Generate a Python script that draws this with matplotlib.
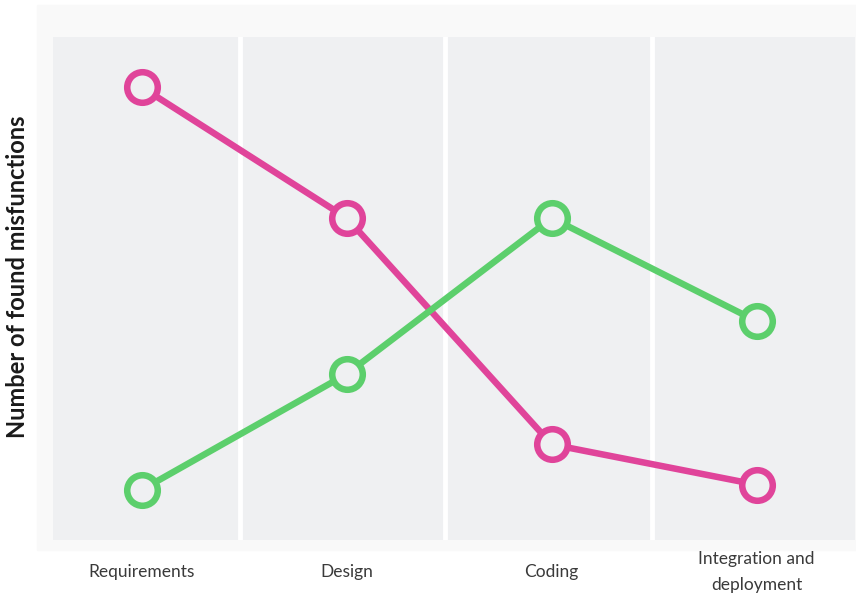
import matplotlib.pyplot as plt
from matplotlib.patches import Rectangle

# phases and values (arbitrary units, 0-10)
phases = ['Requirements', 'Design', 'Coding', 'Integration and\ndeployment']
pink_vals = [9.0, 6.4, 1.9, 1.1]
green_vals = [1.0, 3.3, 6.4, 4.35]
# column edges between phases
edges = [-0.434, 0.478, 1.478, 2.49, 3.48]

panel = '#eff0f2'
pink = '#e0449a'
green = '#5ccf6c'

plt.rcParams['font.family'] = ['Lato', 'DejaVu Sans']

fig = plt.figure(figsize=(8.56, 5.96), dpi=100)
fig.patch.set_facecolor('white')
# faint outer background
fig.add_artist(Rectangle((37 / 856, 46 / 596), 819 / 856, 545 / 596,
                         transform=fig.transFigure, color='#f9f9f9', zorder=0))

ax = fig.add_axes([53 / 856, 56 / 596, 802 / 856, 503 / 596])
ax.set_facecolor('none')
ax.set_xlim(edges[0], edges[-1])
ax.set_ylim(0, 10)

for i in range(len(phases)):
    ax.axvspan(edges[i], edges[i + 1], color=panel, zorder=0, lw=0)
for e in edges[1:-1]:
    ax.axvline(e, color='white', lw=3.5, zorder=1)

x = range(len(phases))
ax.plot(x, pink_vals, color=pink, lw=4.7, marker='o', ms=22,
        mfc=panel, mec=pink, mew=4.7, zorder=3)
ax.plot(x, green_vals, color=green, lw=4.7, marker='o', ms=22,
        mfc=panel, mec=green, mew=4.7, zorder=3)

ax.set_xticks(list(x))
ax.set_xticklabels(phases, fontsize=12.5, color='#3a3a3a', linespacing=1.75,
                   va='center')
ax.tick_params(axis='x', length=0, pad=23)
ax.set_yticks([])
for s in ax.spines.values():
    s.set_visible(False)

fig.text(18 / 856, 1 - 277 / 596, 'Number of found misfunctions', rotation=90,
         fontsize=17, fontweight='bold', color='#1a1a1a', ha='center', va='center')

fig.savefig('out.png', dpi=100)
